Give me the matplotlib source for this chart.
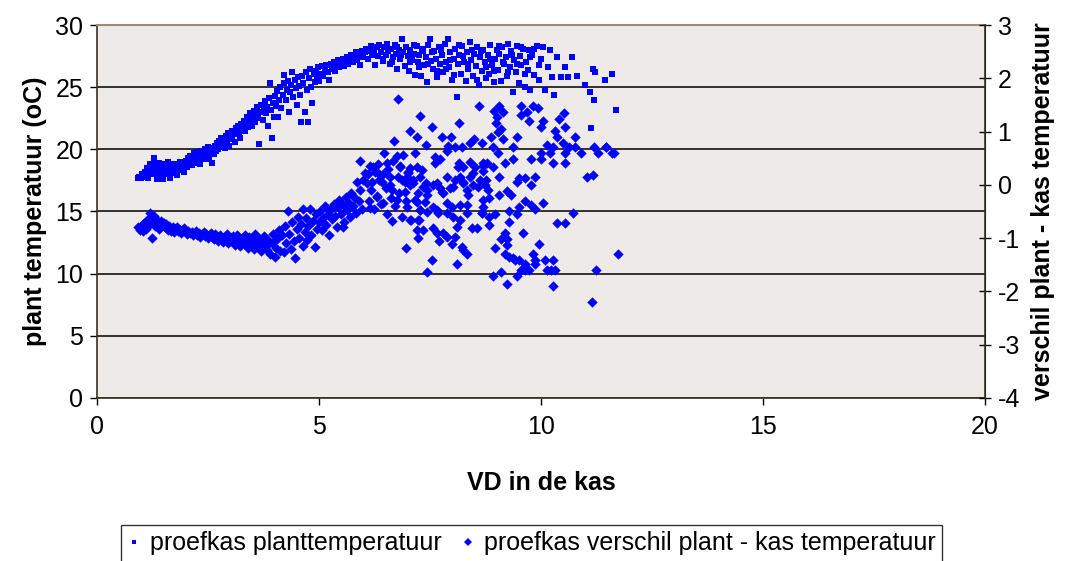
import matplotlib
matplotlib.use("Agg")
import matplotlib.pyplot as plt
from matplotlib.lines import Line2D

plt.rcParams['font.family'] = ['Liberation Sans', 'DejaVu Sans']
plt.rcParams['axes.unicode_minus'] = False

# proefkas planttemperatuur (VD, oC) - linker as
plant_points = [
    (0.92, 17.7), (0.95, 17.8), (1.0, 17.7), (1.02, 18.0), (1.05, 17.8), (1.08, 18.2), (1.1, 17.9),
    (1.12, 18.5), (1.15, 17.7), (1.17, 18.3), (1.2, 18.8), (1.22, 18.0), (1.25, 18.6), (1.28, 19.3),
    (1.3, 18.1), (1.32, 18.9), (1.35, 17.6), (1.38, 18.4), (1.4, 18.9), (1.42, 18.1),
    (1.45, 18.6), (1.48, 17.6), (1.5, 18.3), (1.53, 18.8), (1.55, 18.0), (1.58, 18.5), (1.6, 19.0),
    (1.63, 18.2), (1.65, 17.7), (1.68, 18.6), (1.7, 18.3), (1.73, 18.8), (1.75, 18.1), (1.78, 18.5),
    (1.8, 17.9), (1.83, 18.7), (1.85, 18.3), (1.88, 19.0), (1.9, 18.4), (1.93, 18.8), (1.95, 18.2),
    (1.98, 18.6), (2.0, 19.1),
    (2.03, 18.6), (2.05, 19.3), (2.08, 18.9), (2.1, 19.5), (2.13, 18.7), (2.15, 19.2), (2.18, 19.7),
    (2.2, 18.9), (2.23, 19.4), (2.25, 19.8), (2.28, 19.1), (2.3, 19.5), (2.33, 18.8), (2.35, 19.9),
    (2.38, 19.3), (2.4, 19.6), (2.43, 20.0), (2.45, 19.2), (2.48, 19.7), (2.5, 20.2), (2.53, 19.4),
    (2.55, 19.9), (2.58, 18.9), (2.6, 20.1),
    (2.63, 19.6), (2.65, 20.3), (2.68, 19.9), (2.7, 20.5), (2.73, 20.0), (2.75, 20.7), (2.78, 20.2),
    (2.8, 20.9), (2.83, 20.4), (2.85, 20.8), (2.88, 20.1), (2.9, 21.1), (2.93, 20.6), (2.95, 21.3),
    (2.98, 20.3), (3.0, 21.0), (3.03, 21.5), (3.05, 20.8), (3.08, 21.2), (3.1, 20.6), (3.13, 21.7),
    (3.15, 21.2), (3.18, 21.9), (3.2, 21.4), (3.23, 20.9), (3.25, 22.0), (3.28, 21.6),
    (3.3, 22.3), (3.33, 21.5), (3.35, 22.1), (3.38, 22.6), (3.4, 21.8), (3.43, 22.4), (3.45, 22.9),
    (3.48, 21.9), (3.5, 22.7), (3.53, 23.1), (3.55, 22.2), (3.58, 22.8), (3.6, 23.4), (3.63, 22.5),
    (3.65, 20.4), (3.68, 23.0), (3.7, 23.6), (3.73, 22.4), (3.75, 23.2), (3.78, 23.9), (3.8, 22.9),
    (3.83, 23.4), (3.85, 21.9), (3.88, 24.1), (3.9, 25.3), (3.92, 23.2), (3.94, 20.9), (3.96, 23.7),
    (3.98, 22.6), (4.0, 24.3),
    (4.03, 23.5), (4.05, 24.7), (4.08, 22.6), (4.1, 24.0), (4.13, 25.0), (4.15, 23.3), (4.18, 24.4),
    (4.2, 25.3), (4.22, 26.0), (4.25, 24.0), (4.28, 24.8), (4.3, 25.5), (4.33, 23.0), (4.35, 24.6),
    (4.38, 25.2), (4.4, 26.2), (4.42, 24.2), (4.45, 25.6), (4.48, 24.9), (4.5, 23.6), (4.53, 25.8),
    (4.55, 25.1), (4.58, 24.4), (4.6, 22.2), (4.62, 25.9), (4.65, 25.3), (4.68, 23.0), (4.7, 26.2),
    (4.72, 24.8), (4.75, 22.2), (4.78, 25.7), (4.8, 26.5), (4.83, 25.0), (4.85, 23.7), (4.88, 26.1),
    (4.9, 25.4),
    (4.93, 26.3), (4.95, 25.8), (4.98, 26.6), (5.0, 25.5), (5.03, 26.1), (5.06, 26.7), (5.1, 25.9),
    (5.13, 26.4), (5.16, 26.8), (5.2, 26.2), (5.23, 25.6), (5.26, 26.9), (5.3, 26.5), (5.33, 27.0),
    (5.36, 26.3), (5.4, 26.8), (5.43, 27.2), (5.46, 26.6), (5.5, 27.0), (5.53, 27.3), (5.56, 26.7),
    (5.6, 27.1), (5.63, 27.4), (5.66, 26.9), (5.7, 27.3), (5.73, 27.6), (5.76, 27.0), (5.8, 27.5),
    (5.83, 27.8), (5.86, 27.2), (5.9, 27.6), (5.93, 26.8), (5.96, 27.9), (6.0, 27.4),
    (6.03, 27.8), (6.06, 28.1), (6.1, 27.3), (6.13, 27.9), (6.16, 28.3), (6.2, 27.6), (6.23, 28.0),
    (6.26, 26.8), (6.3, 28.2), (6.33, 27.5), (6.36, 28.4), (6.4, 27.8), (6.43, 27.1), (6.46, 28.2),
    (6.5, 27.6), (6.53, 28.5), (6.56, 27.9), (6.6, 26.9), (6.63, 28.1), (6.66, 27.4), (6.7, 28.4),
    (6.73, 27.7), (6.76, 26.5), (6.8, 28.0), (6.83, 27.3), (6.86, 28.9), (6.9, 27.8), (6.93, 26.7),
    (6.96, 28.2), (7.0, 27.5),
    (6.45, 27.3), (6.55, 28.0), (6.65, 27.0), (6.75, 28.2), (6.85, 27.6),
    (7.03, 26.3), (7.06, 28.0), (7.1, 27.2), (7.13, 27.7), (7.16, 26.0), (7.2, 28.3), (7.23, 27.0),
    (7.26, 27.6), (7.3, 25.9), (7.33, 28.1), (7.36, 26.8), (7.4, 27.4), (7.43, 25.4), (7.46, 28.4),
    (7.5, 28.9), (7.53, 27.1), (7.56, 26.5), (7.6, 27.9), (7.63, 27.3), (7.66, 25.8), (7.7, 28.2),
    (7.73, 26.9), (7.76, 27.6), (7.8, 26.2), (7.83, 28.5), (7.86, 27.0), (7.9, 28.9), (7.93, 26.6),
    (7.96, 27.8), (8.0, 25.6),
    (7.05, 27.0), (7.15, 28.4), (7.25, 26.6), (7.35, 27.9), (7.45, 26.9), (7.55, 27.8),
    (7.65, 26.3), (7.75, 28.0), (7.85, 26.5), (7.95, 27.2),
    (8.03, 27.3), (8.06, 28.1), (8.1, 24.2), (8.13, 26.9), (8.16, 27.6), (8.2, 26.1), (8.23, 28.3),
    (8.26, 27.0), (8.3, 25.5), (8.33, 27.8), (8.36, 26.5), (8.4, 28.6), (8.43, 27.2), (8.46, 25.9),
    (8.5, 27.7), (8.53, 26.7), (8.56, 28.2), (8.6, 25.2), (8.63, 27.4), (8.66, 26.3), (8.7, 28.0),
    (8.73, 27.0), (8.76, 25.7), (8.8, 27.6), (8.83, 26.1), (8.86, 28.4), (8.9, 26.8), (8.93, 25.4),
    (8.96, 27.3), (9.0, 28.0),
    (8.05, 26.0), (8.15, 28.4), (8.25, 27.5), (8.35, 26.9), (8.45, 28.0), (8.55, 25.6),
    (8.65, 27.9), (8.75, 26.6), (8.85, 27.3), (8.95, 26.3),
    (9.03, 26.4), (9.06, 27.7), (9.1, 25.5), (9.13, 28.2), (9.16, 26.9), (9.2, 27.4), (9.23, 25.9),
    (9.26, 28.5), (9.3, 26.6), (9.33, 27.9), (9.36, 24.6), (9.4, 27.2), (9.43, 26.2), (9.46, 28.3),
    (9.5, 25.3), (9.53, 27.5), (9.56, 26.8), (9.6, 28.1), (9.63, 25.0), (9.66, 27.0), (9.7, 26.4),
    (9.73, 28.0), (9.76, 24.8), (9.8, 27.6), (9.85, 26.0), (9.9, 28.3), (9.95, 25.6), (10.0, 27.3),
    (9.05, 28.3), (9.15, 27.0), (9.25, 26.2), (9.35, 27.6), (9.45, 26.9), (9.55, 28.2),
    (9.65, 26.1), (9.75, 27.4), (9.85, 28.1), (9.95, 26.8),
    (10.05, 28.2), (10.1, 24.8), (10.15, 26.6), (10.2, 28.0), (10.25, 25.8), (10.3, 24.4),
    (10.35, 27.4), (10.45, 25.8), (10.55, 26.6), (10.6, 25.8), (10.7, 27.4), (10.8, 25.9),
    (11.0, 25.2), (11.1, 24.6), (11.2, 24.0), (11.13, 21.7), (11.17, 26.5), (11.22, 26.2),
    (11.45, 25.6), (11.6, 26.1), (11.7, 23.2),
]

# proefkas verschil plant - kas temperatuur (VD, oC) - rechter as
diff_points = [
    (0.92, -0.80), (0.97, -0.84), (1.0, -0.78), (1.03, -0.86), (1.06, -0.72), (1.1, -0.82),
    (1.13, -0.66), (1.16, -0.75), (1.19, -0.53), (1.21, -0.62), (1.24, -1.00), (1.26, -0.70),
    (1.28, -0.58), (1.3, -0.78), (1.33, -0.65), (1.36, -0.72), (1.4, -0.83), (1.43, -0.68),
    (1.46, -0.76), (1.5, -0.71),
    (1.53, -0.80), (1.56, -0.74), (1.6, -0.84), (1.63, -0.77), (1.66, -0.86), (1.7, -0.80),
    (1.73, -0.88), (1.76, -0.82), (1.8, -0.79), (1.83, -0.87), (1.86, -0.84), (1.9, -0.90),
    (1.93, -0.85), (1.96, -0.81), (2.0, -0.89), (2.03, -0.93), (2.06, -0.86), (2.1, -0.91),
    (2.13, -0.88), (2.16, -0.95), (2.2, -0.90), (2.23, -0.86), (2.26, -0.94), (2.3, -0.91),
    (2.33, -0.97), (2.36, -0.92), (2.4, -0.88), (2.43, -0.96), (2.46, -0.93), (2.5, -0.99),
    (2.53, -0.94), (2.56, -0.90), (2.6, -0.97),
    (2.63, -1.02), (2.66, -0.93), (2.7, -0.98), (2.73, -1.05), (2.76, -0.95), (2.8, -1.01),
    (2.83, -1.08), (2.86, -0.97), (2.9, -1.04), (2.93, -0.92), (2.96, -1.10), (3.0, -1.00),
    (3.03, -1.06), (3.06, -0.96), (3.1, -1.12), (3.13, -1.03), (3.16, -0.94), (3.2, -1.08),
    (3.23, -1.15), (3.26, -1.00), (3.3, -1.10), (3.33, -0.95), (3.36, -1.05), (3.4, -1.18),
    (3.43, -0.98), (3.46, -1.12), (3.5, -1.04), (3.53, -1.20), (3.56, -0.93), (3.6, -1.09),
    (3.63, -1.16), (3.66, -1.02), (3.7, -1.24), (3.73, -1.07), (3.76, -0.96), (3.8, -1.14),
    (3.83, -1.22), (3.86, -1.03), (3.9, -1.30), (3.93, -1.10), (3.96, -0.92), (4.0, -1.35),
    (4.03, -1.18), (4.06, -1.02), (4.1, -0.85), (4.13, -1.25), (4.16, -0.95), (4.2, -1.26),
    (4.23, -0.78), (4.26, -1.10), (4.3, -0.49), (4.33, -0.92), (4.36, -1.20), (4.4, -0.70),
    (4.43, -1.05), (4.46, -1.37), (4.5, -0.82), (4.53, -0.60), (4.56, -1.00), (4.6, -0.74),
    (4.63, -1.15), (4.65, -0.45), (4.68, -0.88), (4.7, -0.62), (4.73, -1.03), (4.76, -0.78),
    (4.8, -0.45), (4.83, -0.95), (4.86, -0.68), (4.9, -1.16), (4.93, -0.55), (4.96, -0.83),
    (5.0, -0.70),
    (5.03, -0.50), (5.06, -0.85), (5.1, -0.62), (5.13, -0.40), (5.16, -0.75), (5.2, -0.55),
    (5.23, -0.95), (5.26, -0.45), (5.3, -0.65), (5.33, -0.35), (5.36, -0.58), (5.4, -0.80),
    (5.43, -0.42), (5.46, -0.28), (5.5, -0.55), (5.53, -0.38), (5.55, -0.79), (5.56, -0.70),
    (5.6, -0.22), (5.63, -0.48), (5.66, -0.32), (5.7, -0.60), (5.73, -0.15), (5.76, -0.40),
    (5.8, -0.25), (5.83, -0.52), (5.86, 0.05), (5.9, -0.30), (5.92, 0.45), (5.93, -0.10),
    (5.96, -0.45), (6.0, 0.10),
    (6.1, 0.20), (6.12, -0.30), (6.15, 0.35), (6.18, -0.10), (6.2, 0.05), (6.23, -0.45),
    (6.26, 0.25), (6.3, -0.20), (6.33, 0.40), (6.36, 0.10), (6.4, -0.35), (6.43, 0.20),
    (6.46, 0.60), (6.5, -0.05), (6.53, -0.55), (6.56, 0.30), (6.6, 0.00), (6.63, -0.25),
    (6.64, -0.68), (6.66, 0.45), (6.69, 0.82), (6.72, -0.40), (6.75, 0.55), (6.78, 0.15),
    (6.78, 1.61), (6.8, -0.15), (6.83, 0.35), (6.86, -0.60), (6.9, 0.56), (6.93, 0.05),
    (6.96, -0.30), (6.96, -1.18), (7.0, 0.25),
    (6.22, 0.34), (6.33, 0.22), (6.42, 0.05), (6.53, 0.41), (6.6, 0.15), (6.64, -0.10),
    (6.82, 0.34), (6.87, 0.09), (6.94, -0.13), (7.0, 0.22), (7.12, 0.04), (7.27, 0.15),
    (7.34, -0.04), (7.43, -0.19), (6.3, -0.23), (6.44, -0.34), (6.75, -0.28), (6.98, -0.41),
    (7.16, -0.28), (7.27, -0.47), (7.07, -0.66), (7.25, -0.66), (6.15, -0.43), (6.08, 0.04),
    (6.04, 0.22), (7.66, 0.04), (7.77, -0.13), (7.88, 0.15), (8.02, -0.04), (8.13, 0.34),
    (8.24, 0.05), (8.36, -0.19), (8.47, 0.22), (8.58, -0.04), (8.69, -0.28), (8.78, 0.41),
    (7.88, -0.34), (8.17, -0.38), (7.66, -0.47),
    (7.05, 1.01), (7.2, 0.90), (7.27, 1.29), (7.41, 0.75), (7.55, 1.09), (7.77, 0.90),
    (7.98, 0.90), (8.15, 1.16), (7.9, 0.72), (8.06, 0.71), (8.22, 0.71), (8.4, 0.79),
    (8.5, 0.86), (8.67, 0.79), (8.6, 1.48),
    (7.16, 0.60), (7.05, 0.32), (7.2, 0.34), (7.32, 0.28), (7.61, 0.52), (7.72, 0.48),
    (7.61, 0.41), (7.88, 0.64), (8.15, 0.41), (8.24, 0.34), (8.4, 0.43), (8.52, 0.34),
    (8.7, 0.35), (6.98, 0.15), (7.12, 0.09), (7.05, 0.0), (7.23, -0.15), (7.41, 0.04),
    (7.43, -0.09), (7.57, 0.0), (7.72, -0.05), (7.79, -0.15), (7.95, -0.06), (8.06, 0.09),
    (8.17, 0.15), (8.24, 0.04), (8.33, -0.09), (8.4, 0.15), (8.47, 0.0), (8.63, 0.09),
    (8.74, 0.0), (7.2, -0.32), (7.38, -0.32), (7.27, -0.47), (7.43, -0.51), (7.05, -0.66),
    (7.23, -0.66), (7.57, -0.41), (7.68, -0.53), (7.88, -0.53), (7.99, -0.41), (8.02, -0.60),
    (8.1, -0.79), (8.17, -0.66), (8.33, -0.53), (8.45, -0.81), (8.56, -0.81), (8.67, -0.53),
    (8.33, -0.38), (7.2, -0.85), (7.23, -1.0), (7.34, -0.85), (7.57, -0.81), (7.66, -0.90),
    (7.79, -0.90), (7.7, -1.05), (7.88, -0.98), (8.06, -0.98), (8.22, -1.16), (8.24, -1.22),
    (7.99, -1.11), (8.33, -1.30), (8.1, -1.48), (7.54, -1.41), (7.43, -1.63),
    (8.94, 1.39), (9.05, 1.48), (9.14, 1.37), (9.0, 1.27), (8.98, 1.16), (9.1, 1.05),
    (9.02, 0.99), (9.55, 1.48), (9.55, 1.31), (9.68, 1.37), (9.82, 1.48), (9.93, 1.44),
    (9.73, 1.20), (10.05, 1.20), (10.0, 1.09), (10.4, 1.24), (10.52, 1.35), (10.32, 1.01),
    (10.54, 1.09), (10.36, 0.90), (10.77, 0.90), (10.5, 0.79), (10.13, 0.75), (10.27, 0.71),
    (10.63, 0.71), (10.77, 0.71), (11.2, 0.71), (11.46, 0.71), (10.0, 0.60), (10.2, 0.60),
    (10.54, 0.60), (10.9, 0.60), (11.28, 0.60), (11.6, 0.60), (9.77, 0.49), (10.0, 0.49),
    (10.27, 0.41), (10.54, 0.41), (9.46, 0.90), (9.37, 0.71), (8.87, 0.90), (9.14, 0.86),
    (8.92, 0.71), (9.03, 0.60), (9.37, 0.49), (9.19, 0.41), (8.7, 0.41), (8.92, 0.34),
    (8.7, 0.26), (8.75, 0.10), (8.8, -0.10), (9.05, 0.15), (11.04, 0.15), (11.17, 0.19),
    (9.23, -0.11), (9.32, -0.19), (9.05, -0.19), (9.46, 0.05), (9.5, 0.12), (9.64, 0.12),
    (9.86, 0.15), (9.78, 0.0), (9.64, -0.30), (9.77, -0.38), (9.86, -0.45), (10.05, -0.34),
    (9.5, -0.41), (8.83, -0.25), (8.7, -0.41), (8.67, -0.53), (8.83, -0.60), (8.96, -0.55),
    (9.28, -0.50), (9.28, -0.70), (9.46, -0.55), (8.83, -0.75), (10.36, -0.71), (10.54, -0.71),
    (10.72, -0.53), (9.59, -0.90), (9.19, -0.90), (9.1, -1.01), (9.23, -1.01), (9.95, -1.11),
    (8.96, -1.18), (9.23, -1.13), (9.19, -1.30), (9.28, -1.35), (9.37, -1.38), (9.5, -1.41),
    (9.41, -1.41), (9.82, -1.30), (9.86, -1.41), (9.86, -1.48), (10.1, -1.41), (10.27, -1.41),
    (9.64, -1.48), (9.55, -1.60), (9.64, -1.60), (9.73, -1.60), (10.13, -1.60), (10.22, -1.60),
    (10.32, -1.60), (11.24, -1.60), (11.73, -1.30), (8.92, -1.71), (9.1, -1.63), (9.46, -1.71),
    (9.23, -1.86), (10.27, -1.90), (11.15, -2.20), (11.46, 0.71), (11.64, 0.60),
]

plant_vd, plant_t = zip(*plant_points)
diff_vd, diff_t = zip(*diff_points)

blue = '#0000FF'
fs = 18

fig = plt.figure(figsize=(10.65, 5.61), dpi=100)
ax = fig.add_axes([0.0911, 0.2906, 0.8338, 0.6648])
ax.set_facecolor('#EEEAE7')

ax.scatter(plant_vd, plant_t, marker='s', s=24, color=blue, linewidths=0, zorder=3)
ax.set_xlim(0, 20)
ax.set_ylim(0, 30)
ax.set_xticks([0, 5, 10, 15, 20])
ax.set_yticks([0, 5, 10, 15, 20, 25, 30])
ax.yaxis.grid(True, color='black', linewidth=1.1)
ax.set_axisbelow(True)
ax.tick_params(axis='both', labelsize=fs, length=5, width=1, colors='black')
ax.tick_params(axis='y', pad=5)
ax.tick_params(axis='x', pad=7)
for side in ['left', 'bottom']:
    ax.spines[side].set_color('#3a3024')
    ax.spines[side].set_linewidth(1.2)
ax.spines['top'].set_color('#9c8c7a')
ax.spines['top'].set_linewidth(1.5)
ax.set_ylabel('plant temperatuur (oC)', fontsize=fs, fontweight='bold', labelpad=6)
ax.set_xlabel('VD in de kas', fontsize=fs, fontweight='bold', labelpad=23)

ax2 = ax.twinx()
ax2.scatter(diff_vd, diff_t, marker='D', s=28, color=blue, linewidths=0, zorder=3)
ax2.set_ylim(-4, 3)
ax2.set_yticks(range(-4, 4))
ax2.tick_params(axis='y', labelsize=fs, length=8, width=1, direction='inout', pad=5)
ax2.spines['right'].set_color('#3a3024')
ax2.spines['right'].set_linewidth(1.2)
ax2.spines['top'].set_visible(False)
ax2.spines['left'].set_visible(False)
ax2.spines['bottom'].set_visible(False)
ax2.set_ylabel('verschil plant - kas temperatuur', fontsize=fs, fontweight='bold', labelpad=8)

handles = [
    Line2D([], [], linestyle='none', marker='s', markersize=3, color=blue, markeredgewidth=0),
    Line2D([], [], linestyle='none', marker='D', markersize=4, color=blue, markeredgewidth=0),
]
labels = ['proefkas planttemperatuur', 'proefkas verschil plant - kas temperatuur']
leg = fig.legend(handles, labels, loc='upper center', bbox_to_anchor=(0.4995, 0.064),
                 ncol=2, fontsize=fs, frameon=True, fancybox=False, borderpad=0.25,
                 borderaxespad=0, handlelength=0.5, handletextpad=0.4, columnspacing=0.8)
leg.get_frame().set_edgecolor('black')
leg.get_frame().set_linewidth(1.0)

fig.savefig('out.png', dpi=100)
